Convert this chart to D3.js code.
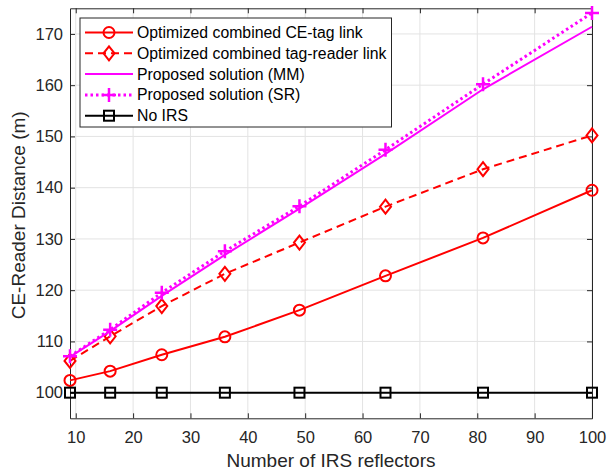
<!DOCTYPE html>
<html><head><meta charset="utf-8">
<script src="https://cdn.jsdelivr.net/npm/d3@7"></script>
<style>body{margin:0;background:#fff}svg{display:block}text{font-family:"Liberation Sans",Arial,sans-serif}</style>
</head><body><svg id="c" width="615" height="472"></svg>
<script>
const xVals = [9, 16, 25, 36, 49, 64, 81, 100];
const ceTag = [102.4, 104.2, 107.4, 110.9, 116.1, 122.8, 130.2, 139.5];
const tagReader = [106.2, 111.0, 116.9, 123.2, 129.3, 136.3, 143.6, 150.2];
const mm = [107.0, 112.0, 118.9, 126.9, 135.9, 146.6, 159.2, 171.4];
const sr = [107.1, 112.3, 119.5, 127.6, 136.4, 147.4, 160.2, 174.1];
const noIRS = [100, 100, 100, 100, 100, 100, 100, 100];
const xTicks = [10, 20, 30, 40, 50, 60, 70, 80, 90, 100];
const yTicks = [100, 110, 120, 130, 140, 150, 160, 170];
const labels = ["Optimized combined CE-tag link", "Optimized combined tag-reader link", "Proposed solution (MM)", "Proposed solution (SR)", "No IRS"];

const svg = d3.select("#c");
const L = 70, R = 592, T = 8.3, B = 418.3;
const x = d3.scaleLinear().domain([9, 100]).range([L, R]);
const y = d3.scaleLinear().domain([95, 175]).range([B, T]);
const axisCol = "#262626";

// grid
const g = svg.append("g");
g.selectAll(".gx").data(xTicks).enter().append("line")
  .attr("x1", d => x(d)).attr("x2", d => x(d)).attr("y1", T).attr("y2", B)
  .attr("stroke", "#e3e3e3").attr("stroke-width", 1);
g.selectAll(".gy").data(yTicks).enter().append("line")
  .attr("y1", d => y(d)).attr("y2", d => y(d)).attr("x1", L).attr("x2", R)
  .attr("stroke", "#e3e3e3").attr("stroke-width", 1);

// axes
const xa = svg.append("g").attr("transform", `translate(0,${B})`)
  .call(d3.axisBottom(x).tickValues(xTicks).tickSizeInner(-5).tickSizeOuter(0).tickPadding(13));
const xt = svg.append("g").attr("transform", `translate(0,${T})`)
  .call(d3.axisTop(x).tickValues(xTicks).tickSizeInner(-5).tickSizeOuter(0).tickFormat(""));
const ya = svg.append("g").attr("transform", `translate(${L},0)`)
  .call(d3.axisLeft(y).tickValues(yTicks).tickSizeInner(-5).tickSizeOuter(0).tickPadding(7));
const yr = svg.append("g").attr("transform", `translate(${R},0)`)
  .call(d3.axisRight(y).tickValues(yTicks).tickSizeInner(-5).tickSizeOuter(0).tickFormat(""));
[xa, xt, ya, yr].forEach(a => {
  a.selectAll("path").attr("stroke", axisCol).attr("stroke-width", 1);
  a.selectAll("line").attr("stroke", axisCol).attr("stroke-width", 1);
  a.selectAll("text").attr("fill", axisCol).style("font-size", "16.5px").style("font-family", '"Liberation Sans",Arial,sans-serif');
});

svg.append("text").attr("x", (L + R) / 2).attr("y", 467).attr("text-anchor", "middle")
  .style("font-size", "19px").attr("fill", axisCol).text("Number of IRS reflectors");
svg.append("text").attr("transform", `translate(25,${(T + B) / 2 + 2}) rotate(-90)`).attr("text-anchor", "middle")
  .style("font-size", "19px").attr("fill", axisCol).text("CE-Reader Distance (m)");

const line = d3.line().x(d => x(d[0])).y(d => y(d[1]));
const RED = "#ff0000", MAG = "#ff00ff";

function marker(sel, type, cx, cy, col) {
  if (type === "circle") sel.append("circle").attr("cx", cx).attr("cy", cy).attr("r", 5.5)
    .attr("fill", "none").attr("stroke", col).attr("stroke-width", 2);
  else if (type === "diamond") sel.append("path")
    .attr("d", `M${cx},${cy - 7}L${cx + 5.5},${cy}L${cx},${cy + 7}L${cx - 5.5},${cy}Z`)
    .attr("fill", "none").attr("stroke", col).attr("stroke-width", 2);
  else if (type === "plus") sel.append("path")
    .attr("d", `M${cx - 7},${cy}H${cx + 7}M${cx},${cy - 7}V${cy + 7}`)
    .attr("stroke", col).attr("stroke-width", 2.5);
  else if (type === "square") sel.append("rect").attr("x", cx - 5).attr("y", cy - 5)
    .attr("width", 10).attr("height", 10).attr("fill", "none").attr("stroke", col).attr("stroke-width", 2);
}

const series = [
  { vals: ceTag, col: RED, dash: null, mk: "circle", w: 2 },
  { vals: tagReader, col: RED, dash: "8,5", mk: "diamond", w: 2 },
  { vals: mm, col: MAG, dash: null, mk: null, w: 2 },
  { vals: sr, col: MAG, dash: "2.5,3", mk: "plus", w: 3 },
  { vals: noIRS, col: "#000", dash: null, mk: "square", w: 2 }
];
const plot = svg.append("g");
series.forEach(s => {
  const pts = xVals.map((v, i) => [v, s.vals[i]]);
  plot.append("path").datum(pts).attr("d", line).attr("fill", "none")
    .attr("stroke", s.col).attr("stroke-width", s.w).attr("stroke-dasharray", s.dash);
  if (s.mk) pts.forEach(p => marker(plot, s.mk, x(p[0]), y(p[1]), s.col));
});

// legend
const lg = svg.append("g");
lg.append("rect").attr("x", 80).attr("y", 18).attr("width", 311.5).attr("height", 109)
  .attr("fill", "#fff").attr("stroke", axisCol).attr("stroke-width", 1);
series.forEach((s, i) => {
  const cy = 32.5 + i * 20.8;
  lg.append("line").attr("x1", 85).attr("x2", 133).attr("y1", cy).attr("y2", cy)
    .attr("stroke", s.col).attr("stroke-width", s.w).attr("stroke-dasharray", s.dash);
  if (s.mk) marker(lg, s.mk, 109, cy, s.col);
  lg.append("text").attr("x", 137).attr("y", cy + 5.5).style("font-size", "15.8px").attr("fill", "#000").text(labels[i]);
});
</script></body></html>
